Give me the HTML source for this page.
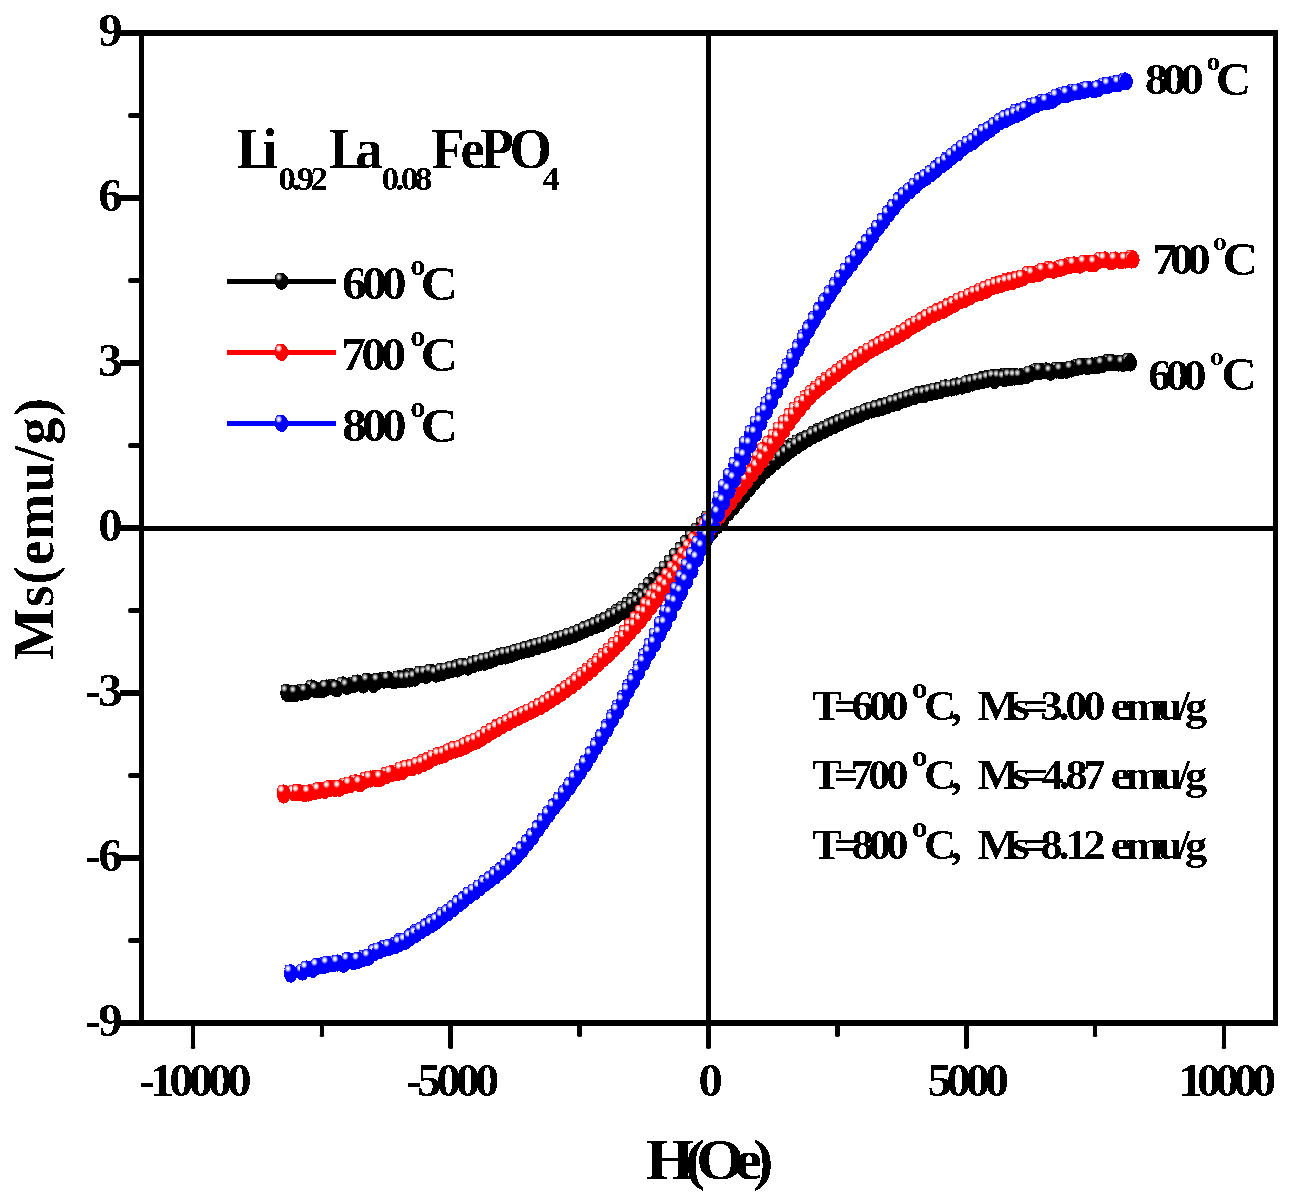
<!DOCTYPE html>
<html><head><meta charset="utf-8"><title>M-H curves</title>
<style>html,body{margin:0;padding:0;background:#fff;}svg{display:block;}text{font-family:"Liberation Serif",serif;font-weight:bold;fill:#000;}</style>
</head><body>
<svg width="1299" height="1203" viewBox="0 0 1299 1203">
<rect x="0" y="0" width="1299" height="1203" fill="#ffffff"/>
<defs>
<radialGradient id="gk" cx="0.5" cy="0.5" r="0.5"><stop offset="0" stop-color="#e6e6e6"/><stop offset="0.15" stop-color="#e6e6e6"/><stop offset="0.55" stop-color="#8a8a8a"/><stop offset="1" stop-color="#000000"/></radialGradient>
<g id="mk"><ellipse cx="0" cy="0" rx="6.7" ry="8.6" fill="#000000"/><ellipse cx="-2.8" cy="-4.2" rx="3.5" ry="4.0" fill="url(#gk)"/></g>
<radialGradient id="gr" cx="0.5" cy="0.5" r="0.5"><stop offset="0" stop-color="#ffffff"/><stop offset="0.15" stop-color="#ffffff"/><stop offset="0.55" stop-color="#ffb0b0"/><stop offset="1" stop-color="#ff0000"/></radialGradient>
<g id="mr"><ellipse cx="0" cy="0" rx="6.7" ry="8.6" fill="#ff0000"/><ellipse cx="-2.8" cy="-4.2" rx="3.5" ry="4.0" fill="url(#gr)"/></g>
<radialGradient id="gb" cx="0.5" cy="0.5" r="0.5"><stop offset="0" stop-color="#ffffff"/><stop offset="0.15" stop-color="#ffffff"/><stop offset="0.55" stop-color="#b0b0ff"/><stop offset="1" stop-color="#0000ff"/></radialGradient>
<g id="mb"><ellipse cx="0" cy="0" rx="6.7" ry="8.6" fill="#0000ff"/><ellipse cx="-2.8" cy="-4.2" rx="3.5" ry="4.0" fill="url(#gb)"/></g>
<filter id="bin" filterUnits="userSpaceOnUse" x="0" y="0" width="1299" height="1203" color-interpolation-filters="sRGB"><feComponentTransfer><feFuncA type="discrete" tableValues="0 0 1 1"/></feComponentTransfer></filter>
</defs>
<g shape-rendering="crispEdges">
<use href="#mk" x="1128.8" y="362.7"/><use href="#mk" x="1118.5" y="363.1"/><use href="#mk" x="1108.2" y="362.5"/><use href="#mk" x="1097.9" y="365.6"/><use href="#mk" x="1087.6" y="366.5"/><use href="#mk" x="1077.3" y="367.3"/><use href="#mk" x="1066.9" y="370.3"/><use href="#mk" x="1056.6" y="370.1"/><use href="#mk" x="1046.3" y="370.9"/><use href="#mk" x="1036.0" y="371.6"/><use href="#mk" x="1025.7" y="375.9"/><use href="#mk" x="1015.4" y="376.5"/><use href="#mk" x="1010.1" y="378.0"/><use href="#mk" x="1004.8" y="376.2"/><use href="#mk" x="999.5" y="377.5"/><use href="#mk" x="994.2" y="380.5"/><use href="#mk" x="988.9" y="378.4"/><use href="#mk" x="983.5" y="379.4"/><use href="#mk" x="978.2" y="381.3"/><use href="#mk" x="972.9" y="382.4"/><use href="#mk" x="967.6" y="384.7"/><use href="#mk" x="962.3" y="386.1"/><use href="#mk" x="957.0" y="385.9"/><use href="#mk" x="951.7" y="388.1"/><use href="#mk" x="946.4" y="388.9"/><use href="#mk" x="941.1" y="390.0"/><use href="#mk" x="935.8" y="391.6"/><use href="#mk" x="930.5" y="392.1"/><use href="#mk" x="925.1" y="393.5"/><use href="#mk" x="919.8" y="394.3"/><use href="#mk" x="914.5" y="396.4"/><use href="#mk" x="909.2" y="397.9"/><use href="#mk" x="903.9" y="399.8"/><use href="#mk" x="898.6" y="401.3"/><use href="#mk" x="893.3" y="403.3"/><use href="#mk" x="888.0" y="405.2"/><use href="#mk" x="882.7" y="406.3"/><use href="#mk" x="877.4" y="408.0"/><use href="#mk" x="872.1" y="409.8"/><use href="#mk" x="866.7" y="411.6"/><use href="#mk" x="861.4" y="413.7"/><use href="#mk" x="856.1" y="415.7"/><use href="#mk" x="850.8" y="417.8"/><use href="#mk" x="845.5" y="420.2"/><use href="#mk" x="840.2" y="421.9"/><use href="#mk" x="834.9" y="424.5"/><use href="#mk" x="829.6" y="426.5"/><use href="#mk" x="824.3" y="429.4"/><use href="#mk" x="819.0" y="431.5"/><use href="#mk" x="813.7" y="434.3"/><use href="#mk" x="808.3" y="437.8"/><use href="#mk" x="803.0" y="440.5"/><use href="#mk" x="797.7" y="442.8"/><use href="#mk" x="792.4" y="446.2"/><use href="#mk" x="787.1" y="448.7"/><use href="#mk" x="781.8" y="452.3"/><use href="#mk" x="776.5" y="455.8"/><use href="#mk" x="771.2" y="458.7"/><use href="#mk" x="765.9" y="462.0"/><use href="#mk" x="760.6" y="466.0"/><use href="#mk" x="755.3" y="470.0"/><use href="#mk" x="749.9" y="473.9"/><use href="#mk" x="744.6" y="477.8"/><use href="#mk" x="739.3" y="483.0"/><use href="#mk" x="734.0" y="489.0"/><use href="#mk" x="728.7" y="494.6"/><use href="#mk" x="723.4" y="500.5"/><use href="#mk" x="718.1" y="506.5"/><use href="#mk" x="712.8" y="512.0"/><use href="#mk" x="707.5" y="518.7"/><use href="#mk" x="702.2" y="524.6"/><use href="#mk" x="696.9" y="530.9"/><use href="#mk" x="691.5" y="537.5"/><use href="#mk" x="686.2" y="543.5"/><use href="#mk" x="680.9" y="550.4"/><use href="#mk" x="675.6" y="556.3"/><use href="#mk" x="670.3" y="562.9"/><use href="#mk" x="665.0" y="568.8"/><use href="#mk" x="659.7" y="575.0"/><use href="#mk" x="654.4" y="580.6"/><use href="#mk" x="649.1" y="585.5"/><use href="#mk" x="643.8" y="591.0"/><use href="#mk" x="638.4" y="596.4"/><use href="#mk" x="633.1" y="600.5"/><use href="#mk" x="627.8" y="605.3"/><use href="#mk" x="622.5" y="609.1"/><use href="#mk" x="617.2" y="612.4"/><use href="#mk" x="611.9" y="616.1"/><use href="#mk" x="606.6" y="619.8"/><use href="#mk" x="601.3" y="621.9"/><use href="#mk" x="596.0" y="625.2"/><use href="#mk" x="590.7" y="627.6"/><use href="#mk" x="585.4" y="629.4"/><use href="#mk" x="580.0" y="632.0"/><use href="#mk" x="574.7" y="634.0"/><use href="#mk" x="569.4" y="636.2"/><use href="#mk" x="564.1" y="638.0"/><use href="#mk" x="558.8" y="639.4"/><use href="#mk" x="553.5" y="641.5"/><use href="#mk" x="548.2" y="643.0"/><use href="#mk" x="542.9" y="644.9"/><use href="#mk" x="537.6" y="646.4"/><use href="#mk" x="532.3" y="647.6"/><use href="#mk" x="527.0" y="649.6"/><use href="#mk" x="521.6" y="651.0"/><use href="#mk" x="516.3" y="652.2"/><use href="#mk" x="511.0" y="654.5"/><use href="#mk" x="505.7" y="656.0"/><use href="#mk" x="500.4" y="656.5"/><use href="#mk" x="495.1" y="658.1"/><use href="#mk" x="489.8" y="660.6"/><use href="#mk" x="484.5" y="662.3"/><use href="#mk" x="479.2" y="662.8"/><use href="#mk" x="473.9" y="663.7"/><use href="#mk" x="468.6" y="666.7"/><use href="#mk" x="463.2" y="666.2"/><use href="#mk" x="457.9" y="667.5"/><use href="#mk" x="452.6" y="669.3"/><use href="#mk" x="447.3" y="670.8"/><use href="#mk" x="442.0" y="672.8"/><use href="#mk" x="436.7" y="674.0"/><use href="#mk" x="431.4" y="672.2"/><use href="#mk" x="426.1" y="675.4"/><use href="#mk" x="420.8" y="674.8"/><use href="#mk" x="415.5" y="677.2"/><use href="#mk" x="410.2" y="676.1"/><use href="#mk" x="404.8" y="677.7"/><use href="#mk" x="399.5" y="679.7"/><use href="#mk" x="394.2" y="680.9"/><use href="#mk" x="383.9" y="680.2"/><use href="#mk" x="373.6" y="684.5"/><use href="#mk" x="363.3" y="685.1"/><use href="#mk" x="353.0" y="685.0"/><use href="#mk" x="342.7" y="684.9"/><use href="#mk" x="332.4" y="687.1"/><use href="#mk" x="322.1" y="689.7"/><use href="#mk" x="311.8" y="688.0"/><use href="#mk" x="301.4" y="692.2"/><use href="#mk" x="291.1" y="694.0"/><use href="#mk" x="287.0" y="693.3"/><use href="#mk" x="287.0" y="692.5"/><use href="#mk" x="295.5" y="693.4"/><use href="#mk" x="305.8" y="691.9"/><use href="#mk" x="316.1" y="690.0"/><use href="#mk" x="326.4" y="688.0"/><use href="#mk" x="336.8" y="688.7"/><use href="#mk" x="347.1" y="686.5"/><use href="#mk" x="357.4" y="683.0"/><use href="#mk" x="367.7" y="681.3"/><use href="#mk" x="378.0" y="681.3"/><use href="#mk" x="388.3" y="679.8"/><use href="#mk" x="398.6" y="678.7"/><use href="#mk" x="404.2" y="679.5"/><use href="#mk" x="409.5" y="679.0"/><use href="#mk" x="414.8" y="678.1"/><use href="#mk" x="420.2" y="674.2"/><use href="#mk" x="425.5" y="674.0"/><use href="#mk" x="430.8" y="672.3"/><use href="#mk" x="436.1" y="674.2"/><use href="#mk" x="441.4" y="671.4"/><use href="#mk" x="446.7" y="670.8"/><use href="#mk" x="452.0" y="669.1"/><use href="#mk" x="457.3" y="669.0"/><use href="#mk" x="462.6" y="666.2"/><use href="#mk" x="467.9" y="667.1"/><use href="#mk" x="473.2" y="664.8"/><use href="#mk" x="478.6" y="663.0"/><use href="#mk" x="483.9" y="661.2"/><use href="#mk" x="489.2" y="660.0"/><use href="#mk" x="494.5" y="658.5"/><use href="#mk" x="499.8" y="656.9"/><use href="#mk" x="505.1" y="655.2"/><use href="#mk" x="510.4" y="654.5"/><use href="#mk" x="515.7" y="652.6"/><use href="#mk" x="521.0" y="650.9"/><use href="#mk" x="526.3" y="649.5"/><use href="#mk" x="531.6" y="648.4"/><use href="#mk" x="537.0" y="646.5"/><use href="#mk" x="542.3" y="644.8"/><use href="#mk" x="547.6" y="643.3"/><use href="#mk" x="552.9" y="641.6"/><use href="#mk" x="558.2" y="640.0"/><use href="#mk" x="563.5" y="638.1"/><use href="#mk" x="568.8" y="636.2"/><use href="#mk" x="574.1" y="634.8"/><use href="#mk" x="579.4" y="632.4"/><use href="#mk" x="584.7" y="630.0"/><use href="#mk" x="590.0" y="628.0"/><use href="#mk" x="595.4" y="625.9"/><use href="#mk" x="600.7" y="623.8"/><use href="#mk" x="606.0" y="620.9"/><use href="#mk" x="611.3" y="618.3"/><use href="#mk" x="616.6" y="615.5"/><use href="#mk" x="621.9" y="612.0"/><use href="#mk" x="627.2" y="609.5"/><use href="#mk" x="632.5" y="605.6"/><use href="#mk" x="637.8" y="602.9"/><use href="#mk" x="643.1" y="598.8"/><use href="#mk" x="648.4" y="595.2"/><use href="#mk" x="653.8" y="591.6"/><use href="#mk" x="659.1" y="587.1"/><use href="#mk" x="664.4" y="582.9"/><use href="#mk" x="669.7" y="578.3"/><use href="#mk" x="675.0" y="573.2"/><use href="#mk" x="680.3" y="568.6"/><use href="#mk" x="685.6" y="563.3"/><use href="#mk" x="690.9" y="557.3"/><use href="#mk" x="696.2" y="551.0"/><use href="#mk" x="701.5" y="545.2"/><use href="#mk" x="706.9" y="538.9"/><use href="#mk" x="712.2" y="531.9"/><use href="#mk" x="717.5" y="525.9"/><use href="#mk" x="722.8" y="519.9"/><use href="#mk" x="728.1" y="513.2"/><use href="#mk" x="733.4" y="507.4"/><use href="#mk" x="738.7" y="500.9"/><use href="#mk" x="744.0" y="495.2"/><use href="#mk" x="749.3" y="488.7"/><use href="#mk" x="754.6" y="482.3"/><use href="#mk" x="759.9" y="476.4"/><use href="#mk" x="765.3" y="471.1"/><use href="#mk" x="770.6" y="466.6"/><use href="#mk" x="775.9" y="461.7"/><use href="#mk" x="781.2" y="457.6"/><use href="#mk" x="786.5" y="453.6"/><use href="#mk" x="791.8" y="449.5"/><use href="#mk" x="797.1" y="445.7"/><use href="#mk" x="802.4" y="442.3"/><use href="#mk" x="807.7" y="439.1"/><use href="#mk" x="813.0" y="435.8"/><use href="#mk" x="818.3" y="433.4"/><use href="#mk" x="823.7" y="430.7"/><use href="#mk" x="829.0" y="427.8"/><use href="#mk" x="834.3" y="425.5"/><use href="#mk" x="839.6" y="423.1"/><use href="#mk" x="844.9" y="420.5"/><use href="#mk" x="850.2" y="418.1"/><use href="#mk" x="855.5" y="416.0"/><use href="#mk" x="860.8" y="414.1"/><use href="#mk" x="866.1" y="411.9"/><use href="#mk" x="871.4" y="410.0"/><use href="#mk" x="876.7" y="408.8"/><use href="#mk" x="882.1" y="407.5"/><use href="#mk" x="887.4" y="405.7"/><use href="#mk" x="892.7" y="403.2"/><use href="#mk" x="898.0" y="402.3"/><use href="#mk" x="903.3" y="399.8"/><use href="#mk" x="908.6" y="398.3"/><use href="#mk" x="913.9" y="397.0"/><use href="#mk" x="919.2" y="394.6"/><use href="#mk" x="924.5" y="394.4"/><use href="#mk" x="929.8" y="392.9"/><use href="#mk" x="935.1" y="391.0"/><use href="#mk" x="940.5" y="390.6"/><use href="#mk" x="945.8" y="387.7"/><use href="#mk" x="951.1" y="387.8"/><use href="#mk" x="956.4" y="387.0"/><use href="#mk" x="961.7" y="386.1"/><use href="#mk" x="967.0" y="383.6"/><use href="#mk" x="972.3" y="383.0"/><use href="#mk" x="977.6" y="381.5"/><use href="#mk" x="982.9" y="380.5"/><use href="#mk" x="988.2" y="379.1"/><use href="#mk" x="993.5" y="377.6"/><use href="#mk" x="998.9" y="377.6"/><use href="#mk" x="1004.2" y="378.5"/><use href="#mk" x="1009.5" y="376.7"/><use href="#mk" x="1014.8" y="377.0"/><use href="#mk" x="1020.1" y="376.9"/><use href="#mk" x="1030.1" y="373.8"/><use href="#mk" x="1040.4" y="371.3"/><use href="#mk" x="1050.7" y="372.3"/><use href="#mk" x="1061.0" y="370.6"/><use href="#mk" x="1071.3" y="369.0"/><use href="#mk" x="1081.6" y="366.3"/><use href="#mk" x="1091.9" y="365.9"/><use href="#mk" x="1102.3" y="364.5"/><use href="#mk" x="1112.6" y="362.8"/><use href="#mk" x="1122.9" y="363.4"/><use href="#mk" x="1128.8" y="361.2"/><ellipse cx="1130.3" cy="363.0" rx="6.7" ry="8.6" fill="#000000"/>
</g>
<g shape-rendering="crispEdges">
<use href="#mr" x="1131.5" y="258.1"/><use href="#mr" x="1121.2" y="260.8"/><use href="#mr" x="1110.9" y="261.9"/><use href="#mr" x="1100.6" y="260.1"/><use href="#mr" x="1090.3" y="263.5"/><use href="#mr" x="1080.0" y="265.2"/><use href="#mr" x="1069.7" y="265.6"/><use href="#mr" x="1059.4" y="268.6"/><use href="#mr" x="1049.1" y="269.4"/><use href="#mr" x="1038.8" y="273.6"/><use href="#mr" x="1028.4" y="274.4"/><use href="#mr" x="1018.1" y="279.0"/><use href="#mr" x="1012.8" y="280.0"/><use href="#mr" x="1007.5" y="281.0"/><use href="#mr" x="1002.2" y="283.3"/><use href="#mr" x="996.9" y="284.7"/><use href="#mr" x="991.6" y="287.1"/><use href="#mr" x="986.3" y="290.3"/><use href="#mr" x="981.0" y="290.8"/><use href="#mr" x="975.7" y="293.7"/><use href="#mr" x="970.4" y="296.6"/><use href="#mr" x="965.0" y="299.3"/><use href="#mr" x="959.7" y="300.8"/><use href="#mr" x="954.4" y="303.9"/><use href="#mr" x="949.1" y="306.1"/><use href="#mr" x="943.8" y="309.0"/><use href="#mr" x="938.5" y="311.4"/><use href="#mr" x="933.2" y="314.5"/><use href="#mr" x="927.9" y="317.1"/><use href="#mr" x="922.6" y="320.3"/><use href="#mr" x="917.3" y="323.8"/><use href="#mr" x="911.9" y="326.5"/><use href="#mr" x="906.6" y="330.3"/><use href="#mr" x="901.3" y="333.1"/><use href="#mr" x="896.0" y="335.9"/><use href="#mr" x="890.7" y="339.0"/><use href="#mr" x="885.4" y="342.0"/><use href="#mr" x="880.1" y="344.5"/><use href="#mr" x="874.8" y="347.5"/><use href="#mr" x="869.5" y="350.8"/><use href="#mr" x="864.2" y="354.2"/><use href="#mr" x="858.9" y="357.4"/><use href="#mr" x="853.5" y="361.3"/><use href="#mr" x="848.2" y="364.5"/><use href="#mr" x="842.9" y="368.5"/><use href="#mr" x="837.6" y="372.4"/><use href="#mr" x="832.3" y="376.4"/><use href="#mr" x="827.0" y="380.2"/><use href="#mr" x="821.7" y="384.2"/><use href="#mr" x="816.4" y="388.9"/><use href="#mr" x="811.1" y="393.5"/><use href="#mr" x="805.8" y="398.5"/><use href="#mr" x="800.5" y="404.2"/><use href="#mr" x="795.1" y="410.0"/><use href="#mr" x="789.8" y="416.4"/><use href="#mr" x="784.5" y="423.1"/><use href="#mr" x="779.2" y="429.8"/><use href="#mr" x="773.9" y="436.9"/><use href="#mr" x="768.6" y="444.1"/><use href="#mr" x="763.3" y="450.6"/><use href="#mr" x="758.0" y="457.8"/><use href="#mr" x="752.7" y="464.4"/><use href="#mr" x="747.4" y="471.2"/><use href="#mr" x="742.1" y="477.7"/><use href="#mr" x="736.7" y="484.5"/><use href="#mr" x="731.4" y="491.6"/><use href="#mr" x="726.1" y="498.6"/><use href="#mr" x="720.8" y="505.7"/><use href="#mr" x="715.5" y="512.2"/><use href="#mr" x="710.2" y="519.5"/><use href="#mr" x="704.9" y="526.3"/><use href="#mr" x="699.6" y="533.5"/><use href="#mr" x="694.3" y="540.5"/><use href="#mr" x="689.0" y="547.6"/><use href="#mr" x="683.7" y="554.8"/><use href="#mr" x="678.3" y="562.1"/><use href="#mr" x="673.0" y="569.0"/><use href="#mr" x="667.7" y="576.1"/><use href="#mr" x="662.4" y="583.3"/><use href="#mr" x="657.1" y="590.8"/><use href="#mr" x="651.8" y="597.8"/><use href="#mr" x="646.5" y="605.5"/><use href="#mr" x="641.2" y="612.7"/><use href="#mr" x="635.9" y="619.6"/><use href="#mr" x="630.6" y="626.3"/><use href="#mr" x="625.3" y="633.0"/><use href="#mr" x="619.9" y="639.0"/><use href="#mr" x="614.6" y="645.2"/><use href="#mr" x="609.3" y="650.9"/><use href="#mr" x="604.0" y="656.3"/><use href="#mr" x="598.7" y="661.2"/><use href="#mr" x="593.4" y="666.3"/><use href="#mr" x="588.1" y="671.2"/><use href="#mr" x="582.8" y="675.6"/><use href="#mr" x="577.5" y="680.1"/><use href="#mr" x="572.2" y="684.6"/><use href="#mr" x="566.9" y="688.5"/><use href="#mr" x="561.5" y="692.4"/><use href="#mr" x="556.2" y="696.2"/><use href="#mr" x="550.9" y="699.5"/><use href="#mr" x="545.6" y="703.3"/><use href="#mr" x="540.3" y="706.1"/><use href="#mr" x="535.0" y="708.8"/><use href="#mr" x="529.7" y="711.7"/><use href="#mr" x="524.4" y="714.4"/><use href="#mr" x="519.1" y="716.6"/><use href="#mr" x="513.8" y="719.4"/><use href="#mr" x="508.5" y="722.2"/><use href="#mr" x="503.1" y="725.1"/><use href="#mr" x="497.8" y="727.2"/><use href="#mr" x="492.5" y="731.0"/><use href="#mr" x="487.2" y="734.7"/><use href="#mr" x="481.9" y="738.0"/><use href="#mr" x="476.6" y="741.1"/><use href="#mr" x="471.3" y="743.0"/><use href="#mr" x="466.0" y="746.2"/><use href="#mr" x="460.7" y="747.9"/><use href="#mr" x="455.4" y="750.0"/><use href="#mr" x="450.1" y="751.3"/><use href="#mr" x="444.7" y="754.0"/><use href="#mr" x="439.4" y="756.1"/><use href="#mr" x="434.1" y="757.9"/><use href="#mr" x="428.8" y="759.9"/><use href="#mr" x="423.5" y="762.3"/><use href="#mr" x="418.2" y="766.0"/><use href="#mr" x="412.9" y="767.2"/><use href="#mr" x="407.6" y="768.0"/><use href="#mr" x="402.3" y="771.6"/><use href="#mr" x="397.0" y="772.9"/><use href="#mr" x="386.7" y="775.4"/><use href="#mr" x="376.3" y="778.5"/><use href="#mr" x="366.0" y="780.1"/><use href="#mr" x="355.7" y="782.7"/><use href="#mr" x="345.4" y="785.8"/><use href="#mr" x="335.1" y="788.5"/><use href="#mr" x="324.8" y="790.4"/><use href="#mr" x="314.5" y="791.7"/><use href="#mr" x="304.2" y="793.5"/><use href="#mr" x="293.9" y="792.9"/><use href="#mr" x="283.7" y="795.0"/><use href="#mr" x="283.7" y="793.0"/><use href="#mr" x="298.2" y="792.5"/><use href="#mr" x="308.6" y="793.0"/><use href="#mr" x="318.9" y="790.5"/><use href="#mr" x="329.2" y="788.6"/><use href="#mr" x="339.5" y="788.2"/><use href="#mr" x="349.8" y="784.8"/><use href="#mr" x="360.1" y="783.6"/><use href="#mr" x="370.4" y="779.0"/><use href="#mr" x="380.7" y="778.3"/><use href="#mr" x="391.0" y="773.7"/><use href="#mr" x="401.3" y="769.7"/><use href="#mr" x="407.0" y="768.2"/><use href="#mr" x="412.3" y="767.7"/><use href="#mr" x="417.6" y="765.2"/><use href="#mr" x="422.9" y="764.0"/><use href="#mr" x="428.2" y="761.3"/><use href="#mr" x="433.5" y="757.9"/><use href="#mr" x="438.8" y="755.6"/><use href="#mr" x="444.1" y="754.6"/><use href="#mr" x="449.4" y="751.7"/><use href="#mr" x="454.7" y="749.4"/><use href="#mr" x="460.1" y="748.3"/><use href="#mr" x="465.4" y="745.6"/><use href="#mr" x="470.7" y="743.3"/><use href="#mr" x="476.0" y="741.1"/><use href="#mr" x="481.3" y="738.3"/><use href="#mr" x="486.6" y="734.4"/><use href="#mr" x="491.9" y="731.4"/><use href="#mr" x="497.2" y="728.5"/><use href="#mr" x="502.5" y="725.4"/><use href="#mr" x="507.8" y="722.7"/><use href="#mr" x="513.1" y="719.5"/><use href="#mr" x="518.5" y="717.2"/><use href="#mr" x="523.8" y="714.5"/><use href="#mr" x="529.1" y="711.9"/><use href="#mr" x="534.4" y="709.2"/><use href="#mr" x="539.7" y="706.8"/><use href="#mr" x="545.0" y="703.8"/><use href="#mr" x="550.3" y="700.3"/><use href="#mr" x="555.6" y="697.0"/><use href="#mr" x="560.9" y="693.6"/><use href="#mr" x="566.2" y="689.7"/><use href="#mr" x="571.5" y="686.0"/><use href="#mr" x="576.9" y="681.9"/><use href="#mr" x="582.2" y="677.7"/><use href="#mr" x="587.5" y="673.1"/><use href="#mr" x="592.8" y="668.7"/><use href="#mr" x="598.1" y="663.9"/><use href="#mr" x="603.4" y="659.0"/><use href="#mr" x="608.7" y="654.5"/><use href="#mr" x="614.0" y="649.1"/><use href="#mr" x="619.3" y="643.5"/><use href="#mr" x="624.6" y="638.1"/><use href="#mr" x="629.9" y="632.4"/><use href="#mr" x="635.3" y="626.4"/><use href="#mr" x="640.6" y="620.6"/><use href="#mr" x="645.9" y="613.5"/><use href="#mr" x="651.2" y="606.8"/><use href="#mr" x="656.5" y="599.8"/><use href="#mr" x="661.8" y="592.9"/><use href="#mr" x="667.1" y="586.4"/><use href="#mr" x="672.4" y="579.5"/><use href="#mr" x="677.7" y="572.4"/><use href="#mr" x="683.0" y="565.1"/><use href="#mr" x="688.3" y="557.8"/><use href="#mr" x="693.7" y="550.7"/><use href="#mr" x="699.0" y="543.9"/><use href="#mr" x="704.3" y="536.7"/><use href="#mr" x="709.6" y="529.6"/><use href="#mr" x="714.9" y="522.8"/><use href="#mr" x="720.2" y="515.4"/><use href="#mr" x="725.5" y="508.5"/><use href="#mr" x="730.8" y="501.7"/><use href="#mr" x="736.1" y="494.6"/><use href="#mr" x="741.4" y="487.7"/><use href="#mr" x="746.7" y="480.8"/><use href="#mr" x="752.1" y="474.0"/><use href="#mr" x="757.4" y="467.1"/><use href="#mr" x="762.7" y="460.1"/><use href="#mr" x="768.0" y="453.0"/><use href="#mr" x="773.3" y="445.1"/><use href="#mr" x="778.6" y="437.9"/><use href="#mr" x="783.9" y="430.4"/><use href="#mr" x="789.2" y="422.8"/><use href="#mr" x="794.5" y="415.7"/><use href="#mr" x="799.8" y="408.7"/><use href="#mr" x="805.1" y="402.4"/><use href="#mr" x="810.5" y="396.7"/><use href="#mr" x="815.8" y="391.3"/><use href="#mr" x="821.1" y="386.6"/><use href="#mr" x="826.4" y="382.2"/><use href="#mr" x="831.7" y="377.7"/><use href="#mr" x="837.0" y="374.0"/><use href="#mr" x="842.3" y="369.8"/><use href="#mr" x="847.6" y="365.7"/><use href="#mr" x="852.9" y="361.8"/><use href="#mr" x="858.2" y="358.4"/><use href="#mr" x="863.5" y="355.0"/><use href="#mr" x="868.9" y="351.1"/><use href="#mr" x="874.2" y="348.2"/><use href="#mr" x="879.5" y="345.4"/><use href="#mr" x="884.8" y="342.6"/><use href="#mr" x="890.1" y="339.7"/><use href="#mr" x="895.4" y="336.9"/><use href="#mr" x="900.7" y="334.1"/><use href="#mr" x="906.0" y="331.0"/><use href="#mr" x="911.3" y="327.0"/><use href="#mr" x="916.6" y="323.8"/><use href="#mr" x="921.9" y="321.3"/><use href="#mr" x="927.3" y="317.8"/><use href="#mr" x="932.6" y="314.6"/><use href="#mr" x="937.9" y="312.4"/><use href="#mr" x="943.2" y="310.3"/><use href="#mr" x="948.5" y="307.3"/><use href="#mr" x="953.8" y="304.6"/><use href="#mr" x="959.1" y="301.1"/><use href="#mr" x="964.4" y="299.0"/><use href="#mr" x="969.7" y="296.6"/><use href="#mr" x="975.0" y="293.9"/><use href="#mr" x="980.4" y="292.7"/><use href="#mr" x="985.7" y="289.4"/><use href="#mr" x="991.0" y="287.1"/><use href="#mr" x="996.3" y="285.5"/><use href="#mr" x="1001.6" y="284.2"/><use href="#mr" x="1006.9" y="282.6"/><use href="#mr" x="1012.2" y="281.5"/><use href="#mr" x="1017.5" y="279.8"/><use href="#mr" x="1022.5" y="278.1"/><use href="#mr" x="1032.8" y="274.5"/><use href="#mr" x="1043.1" y="271.1"/><use href="#mr" x="1053.4" y="270.2"/><use href="#mr" x="1063.8" y="267.3"/><use href="#mr" x="1074.1" y="264.8"/><use href="#mr" x="1084.4" y="263.1"/><use href="#mr" x="1094.7" y="263.4"/><use href="#mr" x="1105.0" y="259.9"/><use href="#mr" x="1115.3" y="260.0"/><use href="#mr" x="1125.6" y="260.1"/><use href="#mr" x="1131.5" y="260.1"/><ellipse cx="1133.0" cy="259.9" rx="6.7" ry="8.6" fill="#ff0000"/>
</g>
<g shape-rendering="crispEdges">
<use href="#mb" x="1124.7" y="80.9"/><use href="#mb" x="1114.4" y="83.7"/><use href="#mb" x="1104.1" y="85.7"/><use href="#mb" x="1093.8" y="89.7"/><use href="#mb" x="1083.5" y="90.6"/><use href="#mb" x="1073.2" y="92.1"/><use href="#mb" x="1062.9" y="94.8"/><use href="#mb" x="1052.6" y="100.3"/><use href="#mb" x="1042.3" y="102.2"/><use href="#mb" x="1031.9" y="106.2"/><use href="#mb" x="1021.6" y="110.9"/><use href="#mb" x="1016.3" y="112.1"/><use href="#mb" x="1011.0" y="116.2"/><use href="#mb" x="1005.7" y="119.4"/><use href="#mb" x="1000.4" y="121.3"/><use href="#mb" x="995.1" y="125.4"/><use href="#mb" x="989.8" y="129.6"/><use href="#mb" x="984.5" y="133.1"/><use href="#mb" x="979.2" y="136.4"/><use href="#mb" x="973.9" y="141.3"/><use href="#mb" x="968.5" y="144.1"/><use href="#mb" x="963.2" y="148.0"/><use href="#mb" x="957.9" y="152.7"/><use href="#mb" x="952.6" y="156.1"/><use href="#mb" x="947.3" y="160.1"/><use href="#mb" x="942.0" y="164.7"/><use href="#mb" x="936.7" y="168.6"/><use href="#mb" x="931.4" y="173.4"/><use href="#mb" x="926.1" y="177.5"/><use href="#mb" x="920.8" y="180.6"/><use href="#mb" x="915.5" y="185.9"/><use href="#mb" x="910.1" y="190.6"/><use href="#mb" x="904.8" y="194.9"/><use href="#mb" x="899.5" y="200.5"/><use href="#mb" x="894.2" y="207.1"/><use href="#mb" x="888.9" y="213.6"/><use href="#mb" x="883.6" y="220.7"/><use href="#mb" x="878.3" y="227.9"/><use href="#mb" x="873.0" y="235.5"/><use href="#mb" x="867.7" y="242.4"/><use href="#mb" x="862.4" y="249.5"/><use href="#mb" x="857.1" y="256.5"/><use href="#mb" x="851.7" y="263.6"/><use href="#mb" x="846.4" y="270.8"/><use href="#mb" x="841.1" y="278.2"/><use href="#mb" x="835.8" y="285.2"/><use href="#mb" x="830.5" y="293.1"/><use href="#mb" x="825.2" y="301.5"/><use href="#mb" x="819.9" y="310.4"/><use href="#mb" x="814.6" y="319.3"/><use href="#mb" x="809.3" y="328.3"/><use href="#mb" x="804.0" y="337.4"/><use href="#mb" x="798.7" y="347.0"/><use href="#mb" x="793.3" y="356.6"/><use href="#mb" x="788.0" y="366.5"/><use href="#mb" x="782.7" y="376.2"/><use href="#mb" x="777.4" y="385.5"/><use href="#mb" x="772.1" y="395.1"/><use href="#mb" x="766.8" y="404.5"/><use href="#mb" x="761.5" y="414.1"/><use href="#mb" x="756.2" y="423.7"/><use href="#mb" x="750.9" y="433.5"/><use href="#mb" x="745.6" y="444.1"/><use href="#mb" x="740.3" y="454.8"/><use href="#mb" x="734.9" y="465.2"/><use href="#mb" x="729.6" y="476.3"/><use href="#mb" x="724.3" y="487.2"/><use href="#mb" x="719.0" y="499.0"/><use href="#mb" x="713.7" y="509.8"/><use href="#mb" x="708.4" y="521.7"/><use href="#mb" x="703.1" y="532.7"/><use href="#mb" x="697.8" y="544.1"/><use href="#mb" x="692.5" y="555.6"/><use href="#mb" x="687.2" y="566.6"/><use href="#mb" x="681.9" y="578.2"/><use href="#mb" x="676.5" y="590.1"/><use href="#mb" x="671.2" y="601.3"/><use href="#mb" x="665.9" y="612.7"/><use href="#mb" x="660.6" y="624.5"/><use href="#mb" x="655.3" y="635.7"/><use href="#mb" x="650.0" y="646.2"/><use href="#mb" x="644.7" y="656.6"/><use href="#mb" x="639.4" y="667.1"/><use href="#mb" x="634.1" y="677.4"/><use href="#mb" x="628.8" y="687.6"/><use href="#mb" x="623.5" y="698.1"/><use href="#mb" x="618.1" y="707.8"/><use href="#mb" x="612.8" y="717.6"/><use href="#mb" x="607.5" y="727.3"/><use href="#mb" x="602.2" y="736.8"/><use href="#mb" x="596.9" y="745.6"/><use href="#mb" x="591.6" y="754.0"/><use href="#mb" x="586.3" y="762.7"/><use href="#mb" x="581.0" y="770.8"/><use href="#mb" x="575.7" y="778.4"/><use href="#mb" x="570.4" y="785.4"/><use href="#mb" x="565.0" y="792.6"/><use href="#mb" x="559.7" y="799.8"/><use href="#mb" x="554.4" y="806.6"/><use href="#mb" x="549.1" y="813.6"/><use href="#mb" x="543.8" y="820.7"/><use href="#mb" x="538.5" y="828.2"/><use href="#mb" x="533.2" y="835.7"/><use href="#mb" x="527.9" y="842.5"/><use href="#mb" x="522.6" y="849.0"/><use href="#mb" x="517.3" y="855.1"/><use href="#mb" x="512.0" y="860.6"/><use href="#mb" x="506.6" y="865.8"/><use href="#mb" x="501.3" y="870.5"/><use href="#mb" x="496.0" y="874.5"/><use href="#mb" x="490.7" y="879.0"/><use href="#mb" x="485.4" y="883.0"/><use href="#mb" x="480.1" y="887.7"/><use href="#mb" x="474.8" y="891.9"/><use href="#mb" x="469.5" y="895.7"/><use href="#mb" x="464.2" y="899.3"/><use href="#mb" x="458.9" y="903.4"/><use href="#mb" x="453.6" y="908.3"/><use href="#mb" x="448.2" y="912.4"/><use href="#mb" x="442.9" y="914.9"/><use href="#mb" x="437.6" y="920.6"/><use href="#mb" x="432.3" y="922.5"/><use href="#mb" x="427.0" y="926.4"/><use href="#mb" x="421.7" y="930.2"/><use href="#mb" x="416.4" y="932.4"/><use href="#mb" x="411.1" y="936.4"/><use href="#mb" x="405.8" y="941.2"/><use href="#mb" x="400.5" y="941.4"/><use href="#mb" x="395.2" y="945.5"/><use href="#mb" x="384.8" y="948.3"/><use href="#mb" x="374.5" y="952.4"/><use href="#mb" x="364.2" y="958.2"/><use href="#mb" x="353.9" y="961.6"/><use href="#mb" x="343.6" y="964.2"/><use href="#mb" x="333.3" y="963.8"/><use href="#mb" x="323.0" y="965.6"/><use href="#mb" x="312.7" y="969.4"/><use href="#mb" x="302.4" y="972.1"/><use href="#mb" x="290.8" y="974.2"/><use href="#mb" x="290.8" y="972.7"/><use href="#mb" x="306.8" y="969.0"/><use href="#mb" x="317.1" y="966.4"/><use href="#mb" x="327.4" y="964.2"/><use href="#mb" x="337.7" y="963.0"/><use href="#mb" x="348.0" y="960.5"/><use href="#mb" x="358.3" y="960.4"/><use href="#mb" x="368.6" y="957.2"/><use href="#mb" x="378.9" y="950.7"/><use href="#mb" x="389.2" y="947.4"/><use href="#mb" x="399.5" y="943.6"/><use href="#mb" x="405.2" y="941.2"/><use href="#mb" x="410.5" y="937.6"/><use href="#mb" x="415.8" y="934.5"/><use href="#mb" x="421.1" y="930.8"/><use href="#mb" x="426.4" y="927.6"/><use href="#mb" x="431.7" y="924.6"/><use href="#mb" x="437.0" y="921.1"/><use href="#mb" x="442.3" y="916.9"/><use href="#mb" x="447.6" y="913.0"/><use href="#mb" x="452.9" y="909.0"/><use href="#mb" x="458.2" y="904.2"/><use href="#mb" x="463.6" y="900.6"/><use href="#mb" x="468.9" y="895.3"/><use href="#mb" x="474.2" y="891.7"/><use href="#mb" x="479.5" y="887.9"/><use href="#mb" x="484.8" y="883.6"/><use href="#mb" x="490.1" y="880.1"/><use href="#mb" x="495.4" y="876.1"/><use href="#mb" x="500.7" y="871.6"/><use href="#mb" x="506.0" y="866.6"/><use href="#mb" x="511.3" y="861.6"/><use href="#mb" x="516.6" y="856.4"/><use href="#mb" x="522.0" y="850.3"/><use href="#mb" x="527.3" y="843.4"/><use href="#mb" x="532.6" y="836.9"/><use href="#mb" x="537.9" y="829.4"/><use href="#mb" x="543.2" y="822.1"/><use href="#mb" x="548.5" y="814.9"/><use href="#mb" x="553.8" y="807.5"/><use href="#mb" x="559.1" y="800.9"/><use href="#mb" x="564.4" y="794.0"/><use href="#mb" x="569.7" y="786.8"/><use href="#mb" x="575.0" y="779.0"/><use href="#mb" x="580.4" y="771.9"/><use href="#mb" x="585.7" y="764.2"/><use href="#mb" x="591.0" y="755.4"/><use href="#mb" x="596.3" y="747.1"/><use href="#mb" x="601.6" y="738.1"/><use href="#mb" x="606.9" y="729.5"/><use href="#mb" x="612.2" y="720.0"/><use href="#mb" x="617.5" y="711.1"/><use href="#mb" x="622.8" y="701.3"/><use href="#mb" x="628.1" y="691.1"/><use href="#mb" x="633.4" y="681.5"/><use href="#mb" x="638.8" y="671.7"/><use href="#mb" x="644.1" y="662.5"/><use href="#mb" x="649.4" y="652.8"/><use href="#mb" x="654.7" y="643.8"/><use href="#mb" x="660.0" y="633.7"/><use href="#mb" x="665.3" y="624.1"/><use href="#mb" x="670.6" y="613.8"/><use href="#mb" x="675.9" y="602.9"/><use href="#mb" x="681.2" y="592.5"/><use href="#mb" x="686.5" y="581.3"/><use href="#mb" x="691.9" y="570.5"/><use href="#mb" x="697.2" y="558.9"/><use href="#mb" x="702.5" y="547.4"/><use href="#mb" x="707.8" y="536.3"/><use href="#mb" x="713.1" y="525.2"/><use href="#mb" x="718.4" y="513.6"/><use href="#mb" x="723.7" y="502.0"/><use href="#mb" x="729.0" y="490.7"/><use href="#mb" x="734.3" y="479.5"/><use href="#mb" x="739.6" y="468.0"/><use href="#mb" x="744.9" y="456.7"/><use href="#mb" x="750.3" y="444.8"/><use href="#mb" x="755.6" y="433.8"/><use href="#mb" x="760.9" y="422.5"/><use href="#mb" x="766.2" y="411.7"/><use href="#mb" x="771.5" y="401.1"/><use href="#mb" x="776.8" y="390.6"/><use href="#mb" x="782.1" y="380.3"/><use href="#mb" x="787.4" y="370.2"/><use href="#mb" x="792.7" y="359.7"/><use href="#mb" x="798.0" y="349.3"/><use href="#mb" x="803.3" y="339.9"/><use href="#mb" x="808.7" y="330.4"/><use href="#mb" x="814.0" y="320.9"/><use href="#mb" x="819.3" y="311.6"/><use href="#mb" x="824.6" y="302.8"/><use href="#mb" x="829.9" y="294.7"/><use href="#mb" x="835.2" y="286.9"/><use href="#mb" x="840.5" y="278.8"/><use href="#mb" x="845.8" y="271.3"/><use href="#mb" x="851.1" y="264.2"/><use href="#mb" x="856.4" y="257.4"/><use href="#mb" x="861.7" y="250.5"/><use href="#mb" x="867.1" y="243.3"/><use href="#mb" x="872.4" y="235.9"/><use href="#mb" x="877.7" y="228.4"/><use href="#mb" x="883.0" y="221.5"/><use href="#mb" x="888.3" y="214.4"/><use href="#mb" x="893.6" y="207.8"/><use href="#mb" x="898.9" y="201.4"/><use href="#mb" x="904.2" y="195.9"/><use href="#mb" x="909.5" y="191.1"/><use href="#mb" x="914.8" y="186.2"/><use href="#mb" x="920.1" y="181.2"/><use href="#mb" x="925.5" y="177.8"/><use href="#mb" x="930.8" y="173.7"/><use href="#mb" x="936.1" y="169.6"/><use href="#mb" x="941.4" y="164.8"/><use href="#mb" x="946.7" y="161.6"/><use href="#mb" x="952.0" y="156.6"/><use href="#mb" x="957.3" y="152.3"/><use href="#mb" x="962.6" y="148.2"/><use href="#mb" x="967.9" y="144.2"/><use href="#mb" x="973.2" y="141.5"/><use href="#mb" x="978.5" y="137.0"/><use href="#mb" x="983.9" y="132.4"/><use href="#mb" x="989.2" y="130.1"/><use href="#mb" x="994.5" y="125.8"/><use href="#mb" x="999.8" y="121.9"/><use href="#mb" x="1005.1" y="118.5"/><use href="#mb" x="1010.4" y="117.0"/><use href="#mb" x="1015.7" y="114.9"/><use href="#mb" x="1021.0" y="112.5"/><use href="#mb" x="1026.0" y="109.5"/><use href="#mb" x="1036.3" y="104.7"/><use href="#mb" x="1046.6" y="101.9"/><use href="#mb" x="1056.9" y="96.8"/><use href="#mb" x="1067.3" y="94.4"/><use href="#mb" x="1077.6" y="91.9"/><use href="#mb" x="1087.9" y="89.1"/><use href="#mb" x="1098.2" y="88.6"/><use href="#mb" x="1108.5" y="85.2"/><use href="#mb" x="1118.8" y="83.4"/><use href="#mb" x="1124.7" y="81.8"/><ellipse cx="1126.2" cy="81.6" rx="6.7" ry="8.6" fill="#0000ff"/>
</g>
<g fill="#000" shape-rendering="crispEdges">
<rect x="139.10" y="30.10" width="1138.70" height="5.80"/>
<rect x="139.10" y="1019.90" width="1138.70" height="5.60"/>
<rect x="139.05" y="33.00" width="4.90" height="989.70"/>
<rect x="1273.00" y="33.00" width="4.80" height="989.70"/>
<rect x="706.10" y="33.00" width="4.80" height="989.70"/>
<rect x="141.50" y="525.85" width="1133.90" height="5.20"/>
<rect x="119.50" y="30.10" width="22.00" height="5.80"/>
<rect x="129.50" y="112.90" width="12.00" height="5.20"/>
<rect x="119.50" y="195.10" width="22.00" height="5.80"/>
<rect x="129.50" y="277.90" width="12.00" height="5.20"/>
<rect x="119.50" y="360.10" width="22.00" height="5.80"/>
<rect x="129.50" y="442.90" width="12.00" height="5.20"/>
<rect x="119.50" y="525.10" width="22.00" height="5.80"/>
<rect x="129.50" y="607.90" width="12.00" height="5.20"/>
<rect x="119.50" y="690.10" width="22.00" height="5.80"/>
<rect x="129.50" y="772.90" width="12.00" height="5.20"/>
<rect x="119.50" y="855.10" width="22.00" height="5.80"/>
<rect x="129.50" y="937.90" width="12.00" height="5.20"/>
<rect x="119.50" y="1020.10" width="22.00" height="5.80"/>
<rect x="190.65" y="1022.70" width="4.80" height="24.80"/>
<rect x="319.61" y="1022.70" width="4.60" height="12.80"/>
<rect x="448.37" y="1022.70" width="4.80" height="24.80"/>
<rect x="577.34" y="1022.70" width="4.60" height="12.80"/>
<rect x="706.10" y="1022.70" width="4.80" height="24.80"/>
<rect x="835.06" y="1022.70" width="4.60" height="12.80"/>
<rect x="963.83" y="1022.70" width="4.80" height="24.80"/>
<rect x="1092.79" y="1022.70" width="4.60" height="12.80"/>
<rect x="1221.55" y="1022.70" width="4.80" height="24.80"/>
</g>
<g fill="#000">
<ellipse cx="193.05" cy="1047.5" rx="2.4" ry="1.6"/>
<ellipse cx="321.91" cy="1035.5" rx="2.4" ry="1.6"/>
<ellipse cx="450.77" cy="1047.5" rx="2.4" ry="1.6"/>
<ellipse cx="579.64" cy="1035.5" rx="2.4" ry="1.6"/>
<ellipse cx="708.50" cy="1047.5" rx="2.4" ry="1.6"/>
<ellipse cx="837.36" cy="1035.5" rx="2.4" ry="1.6"/>
<ellipse cx="966.23" cy="1047.5" rx="2.4" ry="1.6"/>
<ellipse cx="1095.09" cy="1035.5" rx="2.4" ry="1.6"/>
<ellipse cx="1223.95" cy="1047.5" rx="2.4" ry="1.6"/>
<ellipse cx="129.5" cy="115.50" rx="1.4" ry="2.6"/>
<ellipse cx="129.5" cy="280.50" rx="1.4" ry="2.6"/>
<ellipse cx="129.5" cy="445.50" rx="1.4" ry="2.6"/>
<ellipse cx="129.5" cy="610.50" rx="1.4" ry="2.6"/>
<ellipse cx="129.5" cy="775.50" rx="1.4" ry="2.6"/>
<ellipse cx="129.5" cy="940.50" rx="1.4" ry="2.6"/>
</g>
<line x1="227" y1="281.3" x2="336" y2="281.3" stroke="#000" stroke-width="5.2" shape-rendering="crispEdges"/>
<use href="#mk" x="281.6" y="281.3" shape-rendering="crispEdges"/>
<line x1="227" y1="352.4" x2="336" y2="352.4" stroke="#f00" stroke-width="5.2" shape-rendering="crispEdges"/>
<use href="#mr" x="281.6" y="352.4" shape-rendering="crispEdges"/>
<line x1="227" y1="423.4" x2="336" y2="423.4" stroke="#00f" stroke-width="5.2" shape-rendering="crispEdges"/>
<use href="#mb" x="281.6" y="423.4" shape-rendering="crispEdges"/>
<g id="txt" filter="url(#bin)">
<text id="y9" transform="translate(98.30,45.8) scale(1.06,1)" font-size="46">9</text>
<text id="y6" transform="translate(98.30,210.8) scale(1.06,1)" font-size="46">6</text>
<text id="y3" transform="translate(98.30,375.8) scale(1.06,1)" font-size="46">3</text>
<text id="y0" transform="translate(98.30,540.8) scale(1.06,1)" font-size="46">0</text>
<text id="y-3" transform="translate(84.70,705.8) scale(1.06,1)" font-size="46" textLength="35.75" lengthAdjust="spacing">-3</text>
<text id="y-6" transform="translate(84.70,870.8) scale(1.06,1)" font-size="46" textLength="35.75" lengthAdjust="spacing">-6</text>
<text id="y-9" transform="translate(84.70,1035.8) scale(1.06,1)" font-size="46" textLength="35.75" lengthAdjust="spacing">-9</text>
<text id="x-10000" transform="translate(138.90,1096) scale(1.06,1)" font-size="46" textLength="106.40" lengthAdjust="spacing">-10000</text>
<text id="x-5000" transform="translate(405.90,1096) scale(1.06,1)" font-size="46" textLength="88.30" lengthAdjust="spacing">-5000</text>
<text id="x0" transform="translate(698.60,1096) scale(1.06,1)" font-size="46">0</text>
<text id="x5000" transform="translate(927.50,1096) scale(1.06,1)" font-size="46" textLength="77.01" lengthAdjust="spacing">5000</text>
<text id="x10000" transform="translate(1178.20,1096) scale(1.06,1)" font-size="46" textLength="92.69" lengthAdjust="spacing">10000</text>
<text id="xt" transform="translate(646.30,1178.7) scale(1.06,1)" font-size="58" textLength="119.91" lengthAdjust="spacing">H(Oe)</text>
<text id="yt" transform="translate(53.1,660.00) rotate(-90) scale(0.95,1)" font-size="58" textLength="275.79" lengthAdjust="spacing">Ms(emu/g)</text>
<text id="t1" transform="translate(236.80,167.7) scale(0.97,1)" font-size="56.5" textLength="42.06" lengthAdjust="spacing">Li</text>
<text id="t2" transform="translate(278.20,189.9) scale(1.06,1)" font-size="33.5" textLength="47.01" lengthAdjust="spacing">0.92</text>
<text id="t3" transform="translate(328.90,167.7) scale(0.97,1)" font-size="56.5" textLength="55.46" lengthAdjust="spacing">La</text>
<text id="t4" transform="translate(381.60,189.9) scale(1.06,1)" font-size="33.5" textLength="47.92" lengthAdjust="spacing">0.08</text>
<text id="t5" transform="translate(431.50,167.7) scale(0.97,1)" font-size="56.5" textLength="124.40" lengthAdjust="spacing">FePO</text>
<text id="t6" transform="translate(542.30,189.9) scale(1.06,1)" font-size="33.5">4</text>
<text id="l600" transform="translate(342.10,298.9) scale(1.06,1)" font-size="47" textLength="60.85" lengthAdjust="spacing">600</text>
<text id="lo600" transform="translate(410.30,274.7) scale(1.06,1)" font-size="29">o</text>
<text id="lc600" transform="translate(420.50,299.5) scale(1.06,1)" font-size="49">C</text>
<text id="l700" transform="translate(341.10,370.0) scale(1.06,1)" font-size="47" textLength="61.32" lengthAdjust="spacing">700</text>
<text id="lo700" transform="translate(410.30,345.8) scale(1.06,1)" font-size="29">o</text>
<text id="lc700" transform="translate(420.50,370.6) scale(1.06,1)" font-size="49">C</text>
<text id="l800" transform="translate(342.10,441.0) scale(1.06,1)" font-size="47" textLength="60.85" lengthAdjust="spacing">800</text>
<text id="lo800" transform="translate(410.30,416.8) scale(1.06,1)" font-size="29">o</text>
<text id="lc800" transform="translate(420.50,441.6) scale(1.06,1)" font-size="49">C</text>
<text id="r800" transform="translate(1144.80,94.3) scale(1.06,1)" font-size="44.5" textLength="55.66" lengthAdjust="spacing">800</text>
<text id="ro800" transform="translate(1206.50,69.9) scale(1.06,1)" font-size="26">o</text>
<text id="rc800" transform="translate(1215.70,94.9) scale(1.06,1)" font-size="46.5">C</text>
<text id="r700" transform="translate(1152.70,274.2) scale(1.06,1)" font-size="44.5" textLength="54.72" lengthAdjust="spacing">700</text>
<text id="ro700" transform="translate(1213.10,249.8) scale(1.06,1)" font-size="26">o</text>
<text id="rc700" transform="translate(1222.60,274.8) scale(1.06,1)" font-size="46.5">C</text>
<text id="r600" transform="translate(1148.00,389.6) scale(1.06,1)" font-size="44.5" textLength="55.19" lengthAdjust="spacing">600</text>
<text id="ro600" transform="translate(1210.00,365.2) scale(1.06,1)" font-size="26">o</text>
<text id="rc600" transform="translate(1221.30,390.2) scale(1.06,1)" font-size="46.5">C</text>
<text id="a0a" transform="translate(811.90,720.1) scale(1.06,1)" font-size="42" textLength="44.29" lengthAdjust="spacing">T=</text>
<text id="a0b" transform="translate(851.50,720.1) scale(1.06,1)" font-size="42" textLength="53.77" lengthAdjust="spacing">600</text>
<text id="a0o" transform="translate(912.10,697.5) scale(1.06,1)" font-size="29">o</text>
<text id="a0c" transform="translate(924.10,720.1) scale(1.06,1)" font-size="42" textLength="35.85" lengthAdjust="spacing">C,</text>
<text id="a0m" transform="translate(977.50,720.1) scale(1.06,1)" font-size="42" textLength="66.67" lengthAdjust="spacing">Ms=</text>
<text id="a0n" transform="translate(1040.50,720.1) scale(1.06,1)" font-size="42" textLength="61.32" lengthAdjust="spacing">3.00</text>
<text id="a0e" transform="translate(1110.80,720.1) scale(1.06,1)" font-size="42" textLength="90.94" lengthAdjust="spacing">emu/g</text>
<text id="a1a" transform="translate(811.90,789.0) scale(1.06,1)" font-size="42" textLength="44.29" lengthAdjust="spacing">T=</text>
<text id="a1b" transform="translate(850.50,789.0) scale(1.06,1)" font-size="42" textLength="54.72" lengthAdjust="spacing">700</text>
<text id="a1o" transform="translate(912.10,766.4) scale(1.06,1)" font-size="29">o</text>
<text id="a1c" transform="translate(924.10,789.0) scale(1.06,1)" font-size="42" textLength="35.85" lengthAdjust="spacing">C,</text>
<text id="a1m" transform="translate(977.50,789.0) scale(1.06,1)" font-size="42" textLength="66.51" lengthAdjust="spacing">Ms=</text>
<text id="a1n" transform="translate(1041.50,789.0) scale(1.06,1)" font-size="42" textLength="60.38" lengthAdjust="spacing">4.87</text>
<text id="a1e" transform="translate(1110.80,789.0) scale(1.06,1)" font-size="42" textLength="90.94" lengthAdjust="spacing">emu/g</text>
<text id="a2a" transform="translate(811.90,859.1) scale(1.06,1)" font-size="42" textLength="44.29" lengthAdjust="spacing">T=</text>
<text id="a2b" transform="translate(851.50,859.1) scale(1.06,1)" font-size="42" textLength="53.77" lengthAdjust="spacing">800</text>
<text id="a2o" transform="translate(912.10,836.5) scale(1.06,1)" font-size="29">o</text>
<text id="a2c" transform="translate(924.10,859.1) scale(1.06,1)" font-size="42" textLength="35.85" lengthAdjust="spacing">C,</text>
<text id="a2m" transform="translate(977.50,859.1) scale(1.06,1)" font-size="42" textLength="66.67" lengthAdjust="spacing">Ms=</text>
<text id="a2n" transform="translate(1040.50,859.1) scale(1.06,1)" font-size="42" textLength="61.32" lengthAdjust="spacing">8.12</text>
<text id="a2e" transform="translate(1110.80,859.1) scale(1.06,1)" font-size="42" textLength="90.94" lengthAdjust="spacing">emu/g</text>
</g>
</svg></body></html>
